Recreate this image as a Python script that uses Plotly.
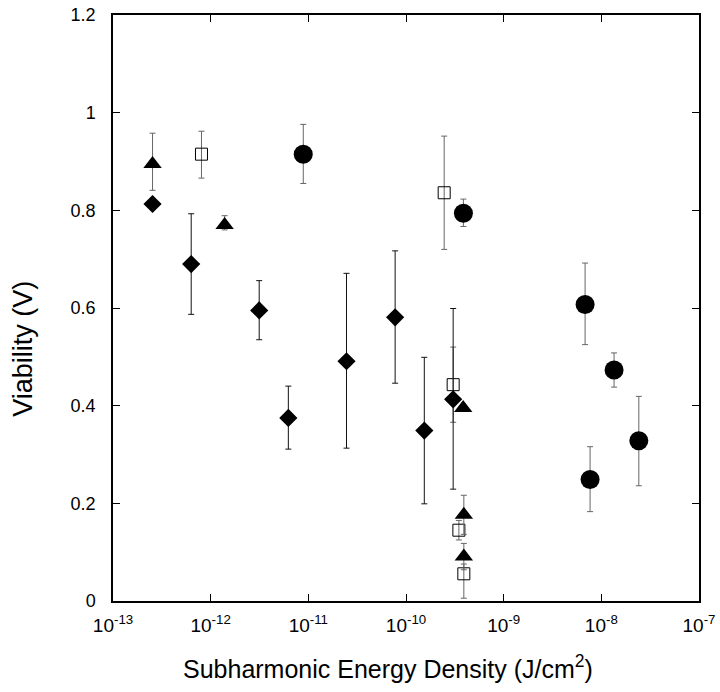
import plotly.graph_objects as go

# Diamonds (filled, solid error bars)
dia_x = [2.54e-13, 6.32e-13, 3.14e-12, 6.24e-12, 2.46e-11, 7.74e-11, 1.54e-10, 3.04e-10]
dia_y = [0.813, 0.690, 0.595, 0.375, 0.491, 0.581, 0.349, 0.413]
dia_ep = [0.0, 0.103, 0.061, 0.065, 0.180, 0.136, 0.150, 0.186]
dia_em = [0.0, 0.103, 0.060, 0.064, 0.178, 0.135, 0.150, 0.184]

# Triangles (filled)
tri_x = [2.54e-13, 1.39e-12, 3.85e-10, 3.91e-10, 3.91e-10]
tri_y = [0.895, 0.770, 0.395, 0.1765, 0.091]
tri_ep = [0.063, 0.019, 0.0, 0.040, 0.027]
tri_em = [0.054, 0.010, 0.0, 0.040, 0.027]

# Open squares
sq_x = [8.05e-13, 2.46e-10, 3.04e-10, 3.48e-10, 3.91e-10]
sq_y = [0.915, 0.836, 0.443, 0.145, 0.0557]
sq_ep = [0.047, 0.116, 0.077, 0.020, 0.020]
sq_em = [0.049, 0.116, 0.077, 0.020, 0.050]

# Filled circles
cir_x = [8.87e-12, 3.87e-10, 6.82e-9, 1.35e-8, 2.42e-8, 7.67e-9]
cir_y = [0.915, 0.794, 0.607, 0.473, 0.328, 0.249]
cir_ep = [0.061, 0.029, 0.085, 0.035, 0.091, 0.067]
cir_em = [0.060, 0.027, 0.082, 0.035, 0.092, 0.066]

x_tickvals = [1e-13, 1e-12, 1e-11, 1e-10, 1e-9, 1e-8, 1e-7]
x_ticktext = ["10<sup>-13</sup>", "10<sup>-12</sup>", "10<sup>-11</sup>", "10<sup>-10</sup>",
              "10<sup>-9</sup>", "10<sup>-8</sup>", "10<sup>-7</sup>"]
y_tickvals = [0, 0.2, 0.4, 0.6, 0.8, 1.0, 1.2]
y_ticktext = ["0", "0.2", "0.4", "0.6", "0.8", "1", "1.2"]

x_title = "Subharmonic Energy Density (J/cm<sup>2</sup>)"
y_title = "Viability (V)"

FONT = "Arial, Liberation Sans, sans-serif"

def err(ep, em, color):
    return dict(type="data", symmetric=False, array=ep, arrayminus=em,
                color=color, thickness=1, width=3, visible=True)

fig = go.Figure()
fig.add_trace(go.Scatter(x=cir_x, y=cir_y, mode="markers",
                         marker=dict(symbol="circle", size=19, color="black"),
                         error_y=err(cir_ep, cir_em, "#666666"), showlegend=False))
fig.add_trace(go.Scatter(x=sq_x, y=sq_y, mode="markers",
                         marker=dict(symbol="square-open", size=12, color="black",
                                     line=dict(width=1, color="black")),
                         error_y=err(sq_ep, sq_em, "#666666"), showlegend=False))
fig.add_trace(go.Scatter(x=dia_x, y=dia_y, mode="markers",
                         marker=dict(symbol="diamond", size=14, color="black"),
                         error_y=err(dia_ep, dia_em, "#111111"), showlegend=False))
fig.add_trace(go.Scatter(x=tri_x, y=tri_y, mode="markers",
                         marker=dict(symbol="triangle-up", size=16, color="black"),
                         error_y=err(tri_ep, tri_em, "#666666"), showlegend=False))

fig.update_layout(
    width=720, height=692,
    margin=dict(l=113, r=18, t=5, b=91),
    paper_bgcolor="white", plot_bgcolor="white",
    font=dict(family=FONT, color="black"),
    xaxis=dict(type="log", range=[-13, -7], tickvals=x_tickvals, ticktext=x_ticktext,
               ticks="inside", ticklen=7, tickcolor="black",
               showline=True, linecolor="black", linewidth=1.5, mirror="ticks",
               showgrid=False, zeroline=False, ticklabeloverflow="allow",
               ticklabelstandoff=6,
               tickfont=dict(size=19, family=FONT)),
    yaxis=dict(range=[0, 1.2], tickvals=y_tickvals, ticktext=y_ticktext,
               ticks="inside", ticklen=7, tickcolor="black",
               showline=True, linecolor="black", linewidth=1.5, mirror="ticks",
               showgrid=False, zeroline=False, ticklabeloverflow="allow",
               ticklabelstandoff=12,
               tickfont=dict(size=18, family=FONT)),
    annotations=[
        dict(text=x_title, xref="paper", yref="paper", x=0.470, y=-0.112,
             xanchor="center", yanchor="middle", showarrow=False,
             font=dict(size=25, family=FONT, color="black")),
        dict(text=y_title, xref="paper", yref="paper", x=-0.154, y=0.43,
             xanchor="center", yanchor="middle", showarrow=False, textangle=-90,
             font=dict(size=27, family=FONT, color="black")),
    ],
)

fig.write_html("out.html", config={"displayModeBar": False},
               post_script="document.body.style.margin='0';")
